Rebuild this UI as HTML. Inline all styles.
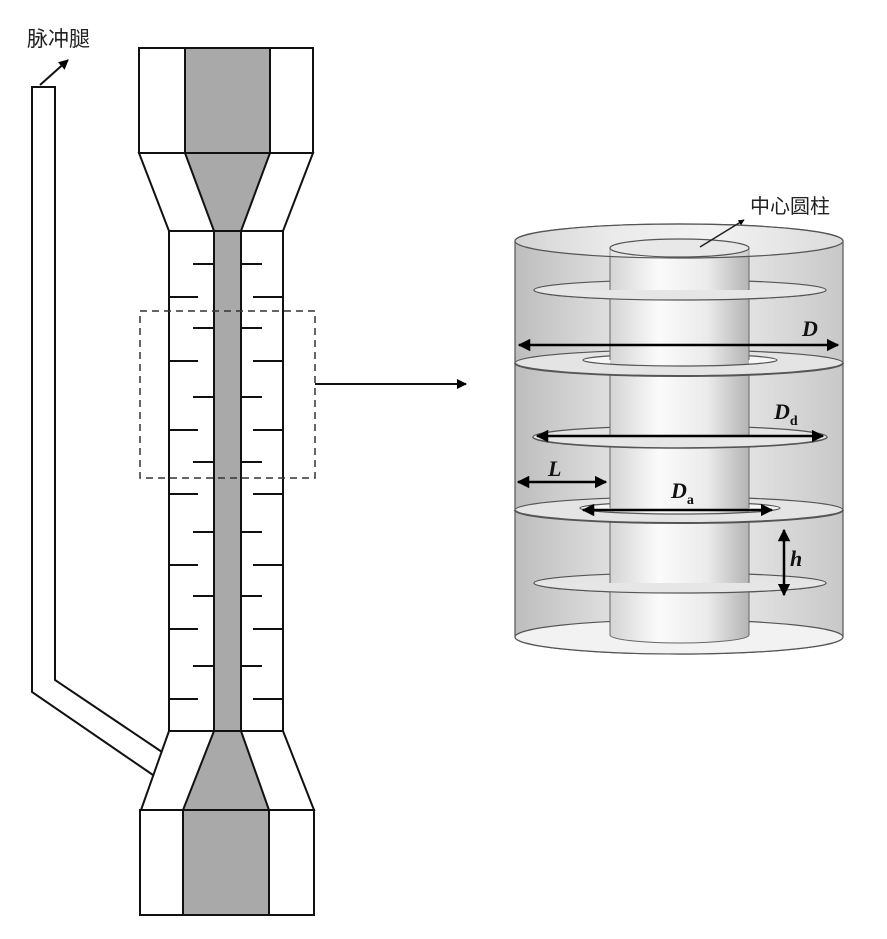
<!DOCTYPE html>
<html><head><meta charset="utf-8"><style>body{margin:0;background:#fff}svg{display:block}</style></head><body>
<svg width="887" height="939" viewBox="0 0 887 939" xmlns="http://www.w3.org/2000/svg">
<defs>
<linearGradient id="og" x1="0" x2="1"><stop offset="0" stop-color="#bdbdbd"/><stop offset="0.3" stop-color="#e0e0e0"/><stop offset="0.6" stop-color="#ececec"/><stop offset="1" stop-color="#c8c8c8"/></linearGradient>
<linearGradient id="cg" x1="0" x2="1"><stop offset="0" stop-color="#d4d4d4"/><stop offset="0.35" stop-color="#fbfbfb"/><stop offset="0.7" stop-color="#ebebeb"/><stop offset="1" stop-color="#b4b4b4"/></linearGradient>
<marker id="ah" viewBox="0 0 10 10" refX="9" refY="5" markerWidth="5" markerHeight="5" orient="auto-start-reverse"><path d="M0,0L10,5L0,10z" fill="#000"/></marker>
<marker id="ah2" viewBox="0 0 10 10" refX="9" refY="5" markerWidth="4" markerHeight="4" orient="auto-start-reverse"><path d="M0,0L10,5L0,10z" fill="#000"/></marker>
</defs>
<g stroke="#111" stroke-width="2" fill="#fff">
<rect x="139" y="48" width="174" height="105"/>
<rect x="185" y="48" width="85" height="105" fill="#a9a9a9"/>
<polygon points="139,153 313,153 283,231 169,231"/>
<polygon points="185,153 270,153 241,231 214,231" fill="#a9a9a9"/>
<rect x="169" y="231" width="114" height="500"/>
<rect x="214" y="231" width="27" height="500" fill="#a9a9a9"/>
<polygon points="169,731 283,731 314,810 141,810"/>
<polygon points="214,731 241,731 269,810 183,810" fill="#a9a9a9"/>
<rect x="140" y="810" width="174" height="105"/>
<rect x="183" y="810" width="86" height="105" fill="#a9a9a9"/>
<polyline points="162,752 55,680 55,87 32,87 32,692 153,775" fill="none"/>
</g>
<g stroke="#111" stroke-width="2">
<path d="M193 264h21M241 264h21M193 328h21M241 328h21M193 397h21M241 397h21M193 462h21M241 462h21M193 532h21M241 532h21M193 596h21M241 596h21M193 666h21M241 666h21"/>
<path d="M169 297h29M253 297h30M169 361h29M253 361h30M169 430h29M253 430h30M169 494h29M253 494h30M169 565h29M253 565h30M169 629h29M253 629h30M169 699h29M253 699h30"/>
<line x1="40" y1="85" x2="68" y2="60" marker-end="url(#ah)"/>
<line x1="315" y1="384" x2="466" y2="384" marker-end="url(#ah)"/>
</g>
<rect x="140" y="311" width="175" height="167" fill="none" stroke="#333" stroke-width="1.5" stroke-dasharray="7,5"/>
<text x="27" y="46" font-family="Liberation Sans, Noto Sans CJK SC, sans-serif" font-size="21" fill="#222">脉冲腿</text>

<g stroke="#555" stroke-width="1.2">
<path d="M515 241 V637 A164 17 0 0 0 843 637 V241 A164 17 0 0 0 515 241z" fill="url(#og)"/>
<ellipse cx="679" cy="637" rx="164" ry="17" fill="#f2f2f2"/>
<ellipse cx="680" cy="290" rx="146" ry="10" fill="#e4e4e4"/>
<ellipse cx="679" cy="363" rx="164" ry="13" fill="#e4e4e4"/>
<ellipse cx="680" cy="360" rx="97" ry="6" fill="#f6f6f6"/>
<ellipse cx="680" cy="437" rx="147" ry="11" fill="#e4e4e4"/>
<ellipse cx="679" cy="510" rx="164" ry="13" fill="#e4e4e4"/>
<ellipse cx="680" cy="508" rx="100" ry="6" fill="#f6f6f6"/>
<ellipse cx="680" cy="583" rx="146" ry="10" fill="#e4e4e4"/>
<path d="M610 248V635A69.5 8 0 0 0 749 635V248z" fill="url(#cg)" stroke="none"/>
<path d="M610 248V635A69.5 8 0 0 0 749 635V248" fill="none" stroke="#666" stroke-width="1"/>
<path d="M534 290A146 10 0 0 0 826 290Z" fill="#e6e6e6" stroke="none"/>
<path d="M534 290A146 10 0 0 0 826 290" fill="none"/>
<path d="M515 363A164 13 0 0 0 843 363Z" fill="#e4e4e4" stroke="none"/>
<path d="M583 360A97 6 0 0 0 777 360Z" fill="#f6f6f6" stroke="none"/>
<rect x="610" y="360" width="139" height="5" fill="url(#cg)" stroke="none"/>
<path d="M583 360A97 6 0 0 0 777 360" fill="none"/>
<path d="M515 363A164 13 0 0 0 843 363" fill="none" stroke-width="2"/>
<path d="M533 437A147 11 0 0 0 827 437Z" fill="#e6e6e6" stroke="none"/>
<path d="M533 437A147 11 0 0 0 827 437" fill="none" stroke-width="1.6"/>
<path d="M515 510A164 13 0 0 0 843 510Z" fill="#e4e4e4" stroke="none"/>
<path d="M580 508A100 6 0 0 0 780 508Z" fill="#f6f6f6" stroke="none"/>
<rect x="610" y="508" width="139" height="5" fill="url(#cg)" stroke="none"/>
<path d="M580 508A100 6 0 0 0 780 508" fill="none"/>
<path d="M515 510A164 13 0 0 0 843 510" fill="none" stroke-width="2"/>
<path d="M534 583A146 10 0 0 0 826 583Z" fill="#e6e6e6" stroke="none"/>
<path d="M534 583A146 10 0 0 0 826 583" fill="none"/>
<ellipse cx="679" cy="241" rx="164" ry="17" fill="#fff" fill-opacity="0.35"/>
<ellipse cx="679.5" cy="248" rx="69.5" ry="9" fill="#e8e8e8"/>
</g>
<g stroke="#000" stroke-width="2.5" fill="none">
<line x1="519" y1="345" x2="838" y2="345" marker-start="url(#ah)" marker-end="url(#ah)"/>
<line x1="537" y1="436" x2="823" y2="436" marker-start="url(#ah)" marker-end="url(#ah)"/>
<line x1="518" y1="482" x2="606" y2="482" marker-start="url(#ah)" marker-end="url(#ah)"/>
<line x1="583" y1="510" x2="772" y2="510" marker-start="url(#ah)" marker-end="url(#ah)"/>
<line x1="784" y1="530" x2="784" y2="595" marker-start="url(#ah)" marker-end="url(#ah)"/>
</g>
<line x1="700" y1="247" x2="744" y2="220" stroke="#222" stroke-width="1.5" marker-end="url(#ah2)"/>
<text x="750" y="213" font-family="Liberation Sans, Noto Sans CJK SC, sans-serif" font-size="20" fill="#222">中心圆柱</text>
<g font-family="Liberation Serif, serif" font-style="italic" font-weight="bold" font-size="22" fill="#111">
<text x="802" y="336">D</text>
<text x="774" y="419">D<tspan font-style="normal" font-size="14" dy="6">d</tspan></text>
<text x="548" y="476">L</text>
<text x="671" y="498">D<tspan font-style="normal" font-size="14" dy="6">a</tspan></text>
<text x="790" y="566">h</text>
</g>
</svg>
</body></html>
